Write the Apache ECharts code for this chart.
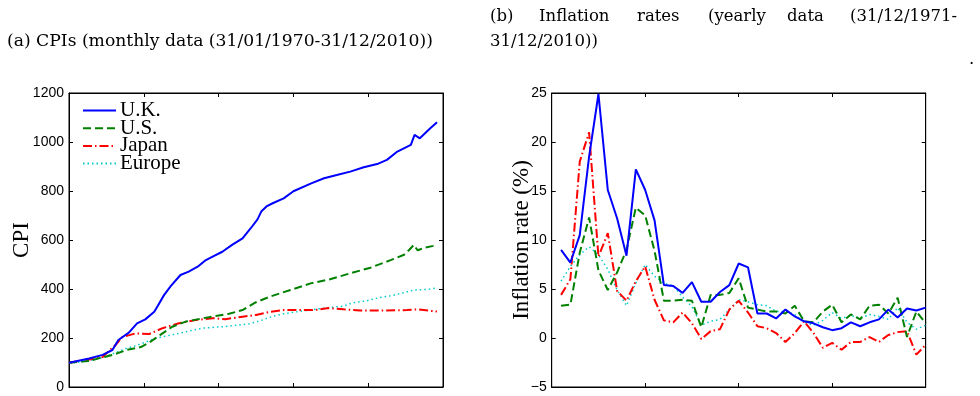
<!DOCTYPE html>
<html><head><meta charset="utf-8">
<script src="https://cdn.jsdelivr.net/npm/echarts@6/dist/echarts.min.js"></script>
<style>html,body{margin:0;padding:0;background:#fff}#c{width:980px;height:396px}</style>
</head><body><div id="c"></div>
<script>
// ---- Panel (a): monthly CPI, [month index, CPI] ----
const ukCPI = [[0,99],[27,116],[45,131],[58,151],[66,192],[80,222],[91,260],[102,276],[114,307],[118,328],[127,375],[136,412],[149,457],[160,471],[172,491],[183,518],[192,532],[205,552],[218,580],[232,607],[243,648],[252,684],[257,716],[264,737],[273,751],[287,770],[300,799],[323,830],[341,852],[358,865],[376,879],[394,897],[412,910],[425,927],[439,961],[457,988],[462,1029],[469,1015],[483,1056],[492,1081]];
const usCPI = [[0,99],[28,107],[41,118],[58,131],[78,152],[96,163],[109,185],[125,219],[138,246],[156,267],[178,280],[196,290],[214,299],[232,314],[250,346],[269,369],[296,396],[323,423],[349,440],[376,464],[403,487],[430,518],[448,540],[455,560],[461,580],[466,558],[475,568],[487,576],[492,582]];
const jpCPI = [[0,99],[27,112],[45,122],[53,146],[62,170],[71,203],[89,219],[107,216],[125,240],[147,260],[169,273],[192,281],[209,277],[232,287],[250,294],[269,307],[287,314],[309,314],[331,315],[347,322],[367,317],[389,312],[420,312],[452,314],[465,317],[492,308]];
const euCPI = [[0,97],[24,105],[45,120],[62,140],[77,158],[89,168],[116,199],[147,219],[178,240],[209,247],[241,258],[255,270],[273,289],[291,301],[309,309],[331,318],[350,325],[367,330],[380,344],[398,352],[415,365],[430,372],[445,383],[461,396],[478,398],[492,405]];

// ---- Panel (b): yearly inflation (%), 1971..2010 plotted at x = 1..40 ----
const years = [1971,1972,1973,1974,1975,1976,1977,1978,1979,1980,1981,1982,1983,1984,1985,1986,1987,1988,1989,1990,1991,1992,1993,1994,1995,1996,1997,1998,1999,2000,2001,2002,2003,2004,2005,2006,2007,2008,2009,2010];
const ukInf = [9.0,7.7,10.5,18.5,24.9,15.1,12.2,8.4,17.2,15.1,12.0,5.4,5.3,4.6,5.7,3.7,3.7,4.7,5.4,7.6,7.2,2.5,2.5,2.0,2.9,2.2,1.7,1.5,1.1,0.8,1.0,1.6,1.2,1.6,1.9,2.9,2.1,3.0,2.8,3.1];
const usInf = [3.3,3.4,8.7,12.3,6.9,4.9,6.7,9.0,13.3,12.5,8.9,3.8,3.8,3.9,3.8,1.1,4.4,4.4,4.6,6.1,3.1,2.9,2.7,2.7,2.5,3.3,1.7,1.6,2.7,3.4,1.6,2.4,1.9,3.3,3.4,2.5,4.1,0.1,2.7,1.5];
const jpInf = [4.4,6.0,18.0,21.0,8.3,10.7,4.8,3.8,5.8,7.3,3.9,1.8,1.6,2.6,1.5,-0.1,0.7,0.9,2.9,3.8,2.6,1.2,1.0,0.5,-0.4,0.5,1.7,0.5,-1.0,-0.5,-1.2,-0.4,-0.4,0.1,-0.4,0.3,0.6,0.7,-1.7,-0.7];
const euInf = [5.8,7.3,8.5,9.3,8.5,7.0,4.9,3.3,5.6,7.5,6.3,5.6,5.3,4.2,3.2,1.3,1.7,1.9,2.9,3.9,3.7,3.4,3.3,2.7,2.7,2.4,1.6,1.3,1.8,2.6,2.0,2.3,2.0,2.4,2.2,1.9,3.1,1.6,0.9,1.3];

const names = ['U.K.','U.S.','Japan','Europe'];
const colors = ['#0000FF','#008000','#FF0000','#00CCCC'];
const styles = [
  {width:2, type:'solid'},
  {width:2, type:[8,4]},
  {width:2, type:[9,3,1.5,3]},
  {width:1.5, type:[1.5,3]}
];

const chart = echarts.init(document.getElementById('c'), null, {renderer:'canvas'});
const SANS = 'Liberation Sans';
const SERIF = 'Liberation Serif';
const TSERIF = 'DejaVu Serif';

function axisPair(gridIndex, min, max, interval, isY, showLabels, minusFmt){
  function mk(pos, labels){
    return {
      type:'value', gridIndex, min, max, interval, position:pos,
      splitLine:{show:false},
      axisLine:{show:true, onZero:false, lineStyle:{color:'#000', width:1}},
      axisTick:{show:true, inside:true, length:4, lineStyle:{color:'#000'}},
      axisLabel:{show:labels, color:'#000', fontFamily:SANS, fontSize:14, margin:5,
        formatter: v => minusFmt ? String(v).replace('-','\u2212') : String(v)}
    };
  }
  return [mk(isY?'left':'bottom', showLabels), mk(isY?'right':'top', false)];
}

const xA = axisPair(0,0,500,100,false,false);
const xB = axisPair(1,0,40,10,false,false);
const yA = axisPair(0,0,1200,200,true,true);
const yB = axisPair(1,-5,25,5,true,true,true);
Object.assign(yA[0], {name:'CPI', nameLocation:'middle', nameGap:36, nameMoveOverlap:false,
  nameTextStyle:{fontFamily:SERIF, fontSize:23, color:'#000'}});
Object.assign(yB[0], {name:'Inflation rate (%)', nameLocation:'middle', nameGap:18, nameMoveOverlap:false,
  nameTextStyle:{fontFamily:SERIF, fontSize:23, color:'#000'}});

const leftData = [ukCPI, usCPI, jpCPI, euCPI];
const rightData = [ukInf, usInf, jpInf, euInf];

const series = [];
names.forEach((n,i)=>{
  series.push({name:n, type:'line', xAxisIndex:0, yAxisIndex:0, data:leftData[i],
    symbol:'none', smooth:false, z: 10-i,
    lineStyle:Object.assign({color:colors[i]}, styles[i]), itemStyle:{color:colors[i]}});
});
names.forEach((n,i)=>{
  series.push({name:n, type:'line', xAxisIndex:2, yAxisIndex:2,
    data: rightData[i].map((v,k)=>[k+1, v]),
    symbol:'none', z: 10-i,
    lineStyle:Object.assign({color:colors[i]}, styles[i]), itemStyle:{color:colors[i]}});
});
// empty carriers so the mirrored (top/right) axes are bound to a series
series.push({type:'line', xAxisIndex:1, yAxisIndex:1, data:[], silent:true, symbol:'none'});
series.push({type:'line', xAxisIndex:3, yAxisIndex:3, data:[], silent:true, symbol:'none'});

function word(text, x, y, size){
  return {type:'text', x, y, style:{text, font: size+'px "'+TSERIF+'"', fill:'#000', textVerticalAlign:'middle'}};
}

chart.setOption({
  animation:false,
  backgroundColor:'#fff',
  grid:[
    {left:69, top:93, width:374, height:294, show:true, borderColor:'#000', borderWidth:1, backgroundColor:'transparent'},
    {left:551.7, top:93, width:374, height:294, show:true, borderColor:'#000', borderWidth:1, backgroundColor:'transparent'}
  ],
  xAxis:[xA[0], xA[1], xB[0], xB[1]],
  yAxis:[yA[0], yA[1], yB[0], yB[1]],
  legend:{
    show:true, orient:'vertical', left:82, top:100,
    data: names, itemWidth:33, itemHeight:10, itemGap:-3.3,
    itemStyle:{opacity:0},
    textStyle:{fontFamily:SERIF, fontSize:21, color:'#000', padding:[0,0,0,-1]},
    padding:0, selectedMode:false
  },
  graphic:[
    word('(a) CPIs (monthly data (31/01/1970-31/12/2010))', 7, 42, 17.2),
    word('(b)', 490, 17, 16.5),
    word('Inflation', 539, 17, 16.5),
    word('rates', 637, 17, 16.5),
    word('(yearly', 708, 17, 16.5),
    word('data', 787, 17, 16.5),
    word('(31/12/1971-', 850, 17, 16.5),
    word('31/12/2010))', 490, 42, 16.5),
    word('.', 969, 60, 16.5)
  ],
  series
});
</script></body></html>
